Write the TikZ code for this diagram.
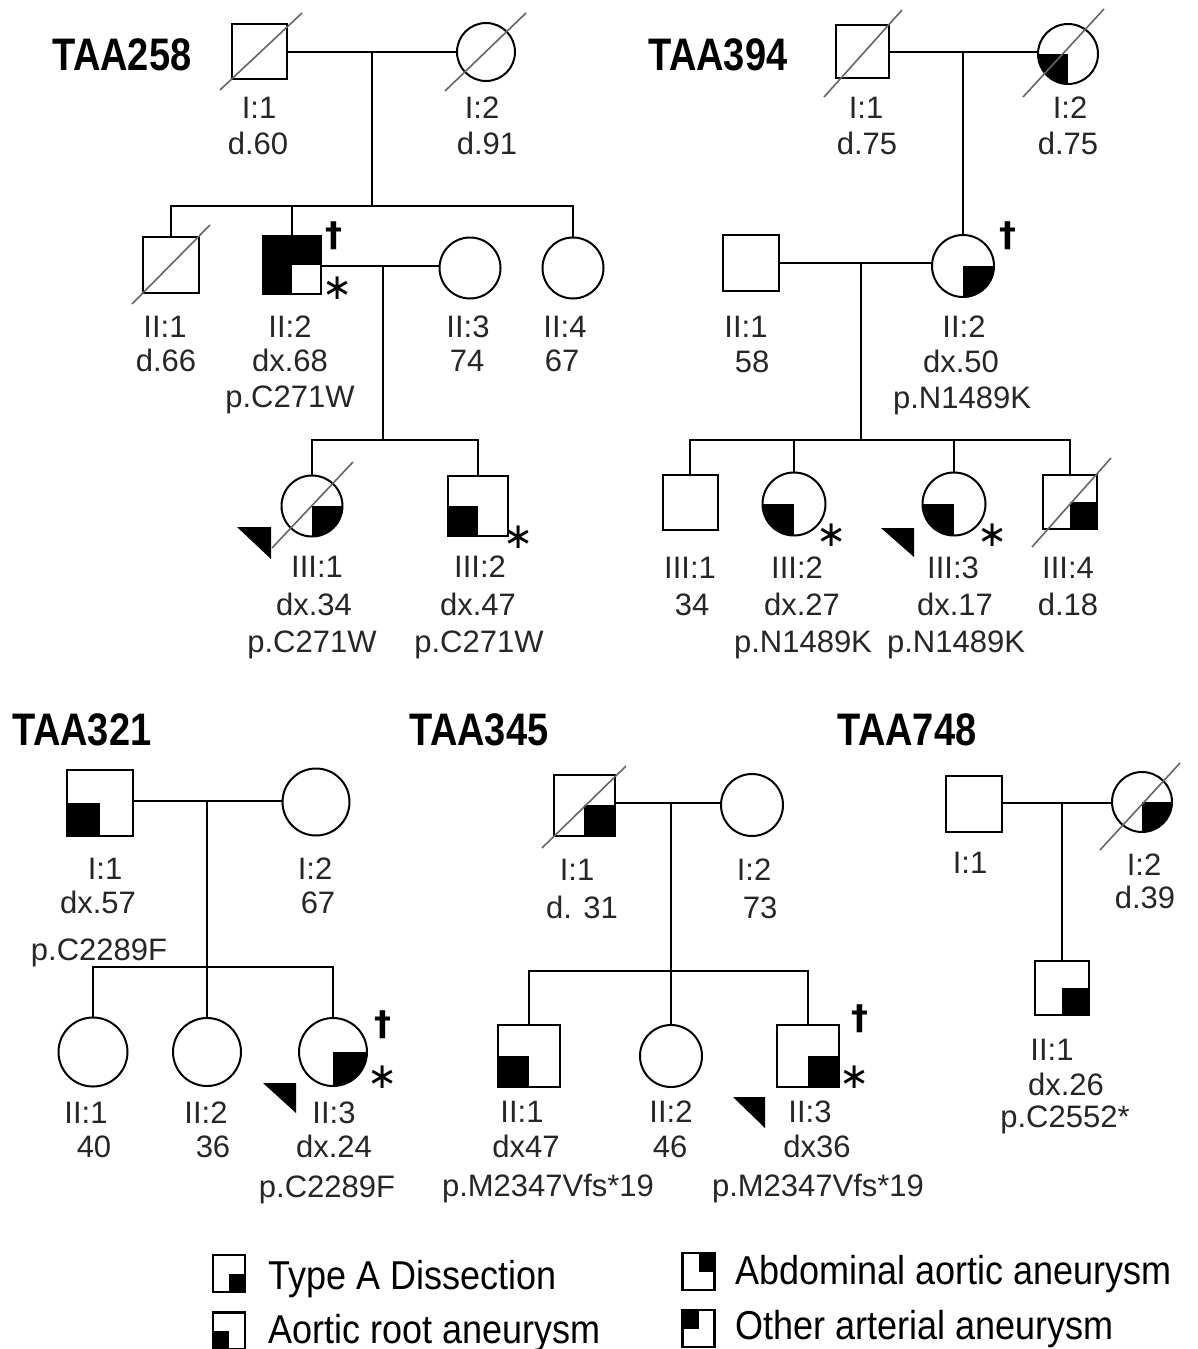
\documentclass[tikz,border=0pt]{standalone}
\usepackage{fontspec}
\setmainfont{Liberation Sans}
\newfontfamily\symfnt{DejaVu Sans}
\usepackage{graphicx}
\newcounter{lbc}
\newcommand\lbl[3]{\stepcounter{lbc}\node[lab] (lbl\arabic{lbc}) at (#1,#2) {#3};}
\newcommand\ttlbox[1]{\scalebox{1}[1.2]{#1}}
\newcommand\legbx[1]{\scalebox{1}[1.12]{#1}}
\tikzset{
 person/.style={draw, line width=2pt, inner sep=0pt, fill=white},
 male/.style={person, rectangle, minimum size=#1},
 female/.style={person, circle, minimum size=#1},
 quads/.style={path picture={\foreach \q in {#1}{\fill[black] (path picture bounding box.center) rectangle (path picture bounding box.\q);}}},
 conn/.style={line width=2pt},
 dslash/.style={draw=black!60, line width=1.6pt},
 lab/.style={anchor=base, inner sep=0pt, text=black!85, font=\fontsize{31}{36}\selectfont},
 ttl/.style={anchor=base, inner sep=0pt, font=\fontsize{38}{38}\selectfont\bfseries},
 dag/.style={inner sep=0pt, font=\symfnt\fontsize{34}{34}\selectfont\bfseries},
 ast/.style={inner sep=0pt, font=\symfnt\fontsize{36}{36}\selectfont},
 prob/.style={fill=black},
 legbox/.style={draw, line width=2.5pt, inner sep=0pt, minimum width=32pt, minimum height=37pt},
 legtxt/.style={anchor=base west, inner sep=0pt, font=\fontsize{36}{36}\selectfont},
}
\begin{document}
\begin{tikzpicture}[x=1pt,y=-1pt]
\useasboundingbox (0,0) rectangle (1198,1349);
\fill[white] (0,0) rectangle (1198,1349);

%% ================= TAA258 =================
\node[ttl] (t258) at (122,70) {\ttlbox{TAA258}};
\node[male=55pt] (a1) at (259.5,51.5) {};
\node[female=58pt] (a2) at (486,52) {};
\node[male=56pt] (a3) at (171,265) {};
\node[male=58pt, quads={north west,north east,south west}] (a4) at (292,265) {};
\node[female=61pt] (a5) at (470,268) {};
\node[female=61pt] (a6) at (573,268) {};
\node[female=61pt, quads={south east}] (a7) at (312,506) {};
\node[male=60pt, quads={south west}] (a8) at (478,506) {};
\coordinate (m1) at (372,51);
\coordinate (s1) at (372,206);
\coordinate (m2) at (383,266);
\coordinate (s2) at (383,440);
\draw[conn] (a1.east) -- (a1.east -| a2.west);
\draw[conn] (m1) -- (s1);
\draw[conn] (a3.north) -- (a3.north |- s1) -- (a6.north |- s1) -- (a6.north);
\draw[conn] (a4.north) -- (a4.north |- s1);
\draw[conn] (a4.east |- m2) -- (a5.west |- m2);
\draw[conn] (m2) -- (s2);
\draw[conn] (a7.north) -- (a7.north |- s2) -- (a8.north |- s2) -- (a8.north);
\draw[dslash] (220,90) -- (302,13);
\draw[dslash] (445,91) -- (526,13);
\draw[dslash] (132,304) -- (210,225);
\draw[dslash] (272,548) -- (353,462);
\node[dag] (a4d) at (334,236) {†};
\node[ast] (a4a) at (338,288) {∗};
\node[ast] (a8a) at (519,537) {∗};
\fill[prob] (237,527) -- (271,527) -- (271,559) -- cycle;
\lbl{259}{118}{I:1}\lbl{258}{154}{d.60}
\lbl{482}{118}{I:2}\lbl{487}{154}{d.91}
\lbl{165}{337}{II:1}\lbl{166}{371}{d.66}
\lbl{290}{337}{II:2}\lbl{290}{371}{dx.68}\lbl{290}{407}{p.C271W}
\lbl{468}{337}{II:3}\lbl{467}{371}{74}
\lbl{565}{337}{II:4}\lbl{562}{371}{67}
\lbl{317}{577}{III:1}\lbl{314}{615}{dx.34}\lbl{312}{652}{p.C271W}
\lbl{480}{577}{III:2}\lbl{478}{615}{dx.47}\lbl{479}{652}{p.C271W}

%% ================= TAA394 =================
\node[ttl] (t394) at (718,70) {\ttlbox{TAA394}};
\node[male=53pt] (b1) at (862,51) {};
\node[female=60pt, quads={south west}] (b2) at (1068,54) {};
\node[male=56pt] (b3) at (751,263) {};
\node[female=62pt, quads={south east}] (b4) at (963,266) {};
\node[male=55pt] (b5) at (690,502) {};
\node[female=63pt, quads={south west}] (b6) at (794,504) {};
\node[female=63pt, quads={south west}] (b7) at (954,504) {};
\node[male=54pt, quads={south east}] (b8) at (1070,502) {};
\coordinate (m3) at (963,52);
\coordinate (m4) at (861,263);
\coordinate (s4) at (861,440);
\draw[conn] (b1.east |- m3) -- (b2.west |- m3);
\draw[conn] (m3) -- (b4.north);
\draw[conn] (b3.east |- m4) -- (b4.west |- m4);
\draw[conn] (m4) -- (s4);
\draw[conn] (b5.north) -- (b5.north |- s4) -- (b8.north |- s4) -- (b8.north);
\draw[conn] (b6.north) -- (b6.north |- s4);
\draw[conn] (b7.north) -- (b7.north |- s4);
\draw[dslash] (824,97) -- (902,10);
\draw[dslash] (1023,97) -- (1104,9);
\draw[dslash] (1032,547) -- (1111,458);
\node[dag] (b4d) at (1008,236) {†};
\node[ast] (b6a) at (832,535) {∗};
\node[ast] (b7a) at (993,535) {∗};
\fill[prob] (881,528) -- (914,528) -- (914,557) -- cycle;
\lbl{866}{118}{I:1}\lbl{867}{154}{d.75}
\lbl{1070}{118}{I:2}\lbl{1068}{154}{d.75}
\lbl{746}{337}{II:1}\lbl{752}{372}{58}
\lbl{964}{337}{II:2}\lbl{961}{372}{dx.50}\lbl{962}{408}{p.N1489K}
\lbl{690}{578}{III:1}\lbl{692}{615}{34}
\lbl{797}{578}{III:2}\lbl{802}{615}{dx.27}\lbl{803}{652}{p.N1489K}
\lbl{953}{578}{III:3}\lbl{955}{615}{dx.17}\lbl{956}{652}{p.N1489K}
\lbl{1068}{578}{III:4}\lbl{1068}{615}{d.18}

%% ================= TAA321 =================
\node[ttl] (t321) at (82,745) {\ttlbox{TAA321}};
\node[male=66pt, quads={south west}] (c1) at (100,803) {};
\node[female=67pt] (c2) at (316,802) {};
\node[female=69pt] (c3) at (93,1052) {};
\node[female=68pt] (c4) at (207,1052) {};
\node[female=68pt, quads={south east}] (c5) at (333,1052) {};
\coordinate (m5) at (207,801);
\coordinate (s5) at (207,967);
\draw[conn] (c1.east |- m5) -- (c2.west |- m5);
\draw[conn] (m5) -- (s5);
\draw[conn] (c3.north) -- (c3.north |- s5) -- (c5.north |- s5) -- (c5.north);
\draw[conn] (c4.north) -- (s5);
\node[dag] (c5d) at (383,1025) {†};
\node[ast] (c5a) at (383,1077) {∗};
\fill[prob] (263,1083) -- (296,1083) -- (296,1113) -- cycle;
\lbl{105}{879}{I:1}\lbl{98}{913}{dx.57}\lbl{99}{960}{p.C2289F}
\lbl{315}{879}{I:2}\lbl{318}{913}{67}
\lbl{86}{1123}{II:1}\lbl{94}{1157}{40}
\lbl{206}{1123}{II:2}\lbl{213}{1157}{36}
\lbl{334}{1123}{II:3}\lbl{334}{1157}{dx.24}\lbl{327}{1197}{p.C2289F}

%% ================= TAA345 =================
\node[ttl] (t345) at (479,745) {\ttlbox{TAA345}};
\node[male=61pt, quads={south east}] (d1) at (584,805) {};
\node[female=62pt] (d2) at (752,805) {};
\node[male=62pt, quads={south west}] (d3) at (529,1056) {};
\node[female=62pt] (d4) at (671,1056) {};
\node[male=62pt, quads={south east}] (d5) at (808,1056) {};
\coordinate (m6) at (671,803);
\coordinate (s6) at (671,971);
\draw[conn] (d1.east |- m6) -- (d2.west |- m6);
\draw[conn] (m6) -- (s6);
\draw[conn] (d3.north) -- (d3.north |- s6) -- (d5.north |- s6) -- (d5.north);
\draw[conn] (d4.north) -- (s6);
\draw[dslash] (542,848) -- (626,766);
\node[dag] (d5d) at (860,1019) {†};
\node[ast] (d5a) at (855,1077) {∗};
\fill[prob] (733,1097) -- (765,1097) -- (765,1128) -- cycle;
\lbl{577}{880}{I:1}\lbl{582}{918}{d. 31}
\lbl{754}{880}{I:2}\lbl{760}{918}{73}
\lbl{522}{1122}{II:1}\lbl{526}{1157}{dx47}\lbl{548}{1196}{p.M2347Vfs*19}
\lbl{671}{1122}{II:2}\lbl{670}{1157}{46}
\lbl{810}{1122}{II:3}\lbl{817}{1157}{dx36}\lbl{818}{1196}{p.M2347Vfs*19}

%% ================= TAA748 =================
\node[ttl] (t748) at (907,745) {\ttlbox{TAA748}};
\node[male=56pt] (e1) at (974,804) {};
\node[female=60pt, quads={south east}] (e2) at (1142,802) {};
\node[male=54pt, quads={south east}] (e3) at (1062,988) {};
\coordinate (m7) at (1062,803);
\draw[conn] (e1.east |- m7) -- (e2.west |- m7);
\draw[conn] (m7) -- (e3.north);
\draw[dslash] (1100,850) -- (1180,763);
\lbl{970}{873}{I:1}
\lbl{1144}{875}{I:2}\lbl{1145}{908}{d.39}
\lbl{1052}{1060}{II:1}\lbl{1066}{1095}{dx.26}\lbl{1065}{1127}{p.C2552*}

%% ================= Legend =================
\node[legbox, quads={south east}] (k1) at (229,1273.5) {};
\node[legbox, quads={south west}] (k2) at (229,1331) {};
\node[legbox, quads={north east}] (k3) at (698.5,1271.5) {};
\node[legbox, quads={north west}] (k4) at (698.5,1328.5) {};
\node[legtxt] (k1t) at (268,1289) {\legbx{Type A Dissection}};
\node[legtxt] (k2t) at (268,1343) {\legbx{Aortic root aneurysm}};
\node[legtxt] (k3t) at (735,1284) {\legbx{Abdominal aortic aneurysm}};
\node[legtxt] (k4t) at (735,1339) {\legbx{Other arterial aneurysm}};
\end{tikzpicture}
\end{document}
